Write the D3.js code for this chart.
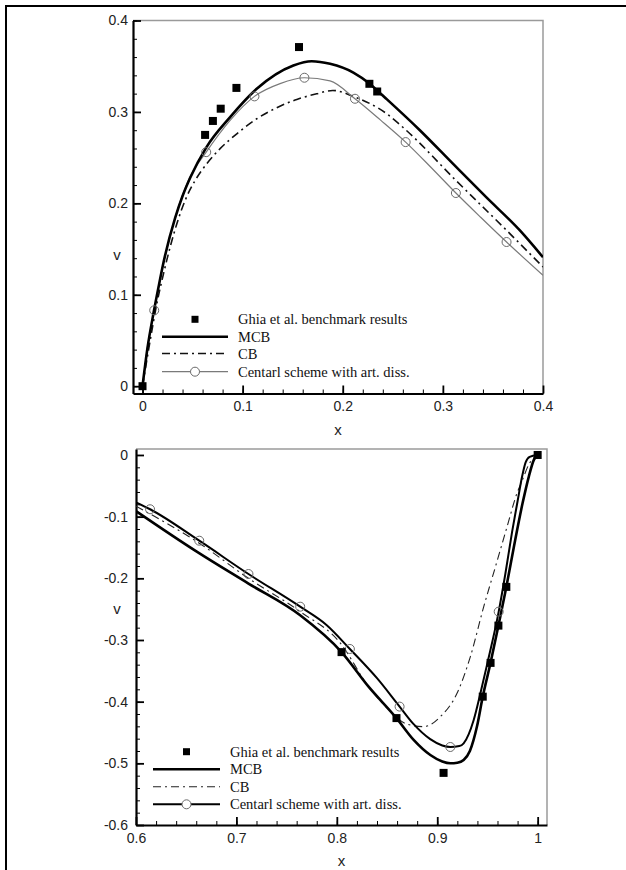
<!DOCTYPE html>
<html>
<head>
<meta charset="utf-8">
<script src="https://cdn.jsdelivr.net/npm/d3@7"></script>
<style>
body{margin:0;background:#fff;}
svg{display:block;}
</style>
</head>
<body>
<svg id="chart"></svg>
<script>
// ---- data: upper panel (0 <= x <= 0.4)
var topGhiaX = [0, 0.0625, 0.0703, 0.0781, 0.0938, 0.1563, 0.2266, 0.2344];
var topGhiaV = [0, 0.27485, 0.29012, 0.30353, 0.32627, 0.37095, 0.33075, 0.32235];

var topMcbX = [0, 0.005, 0.011, 0.016, 0.021, 0.0326, 0.04, 0.0476, 0.0636, 0.0875, 0.1141, 0.1507, 0.169, 0.1873, 0.2106, 0.2266, 0.2344, 0.2439, 0.277, 0.31, 0.343, 0.3767, 0.4];
var topMcbV = [0, 0.042, 0.08, 0.1085, 0.1355, 0.184, 0.208, 0.228, 0.261, 0.2943, 0.3253, 0.3508, 0.3555, 0.3526, 0.343, 0.331, 0.3235, 0.314, 0.28, 0.2434, 0.207, 0.1706, 0.141];

var topCbX = [0, 0.0077, 0.0143, 0.021, 0.0276, 0.0343, 0.0426, 0.0526, 0.0642, 0.0775, 0.0942, 0.1141, 0.1341, 0.1541, 0.174, 0.19, 0.2106, 0.2439, 0.2628, 0.313, 0.3636, 0.4];
var topCbV = [0, 0.0503, 0.0903, 0.1231, 0.1522, 0.1777, 0.2033, 0.2251, 0.2434, 0.2598, 0.2761, 0.2925, 0.3046, 0.3137, 0.3198, 0.3235, 0.317, 0.298, 0.2805, 0.2251, 0.1705, 0.1304];

var topCentralX = [0, 0.005, 0.0117, 0.021, 0.033, 0.047, 0.0636, 0.0875, 0.1118, 0.1374, 0.1617, 0.1873, 0.2122, 0.2378, 0.2628, 0.288, 0.313, 0.338, 0.3636, 0.4];
var topCentralV = [0, 0.043, 0.083, 0.134, 0.186, 0.228, 0.256, 0.2907, 0.317, 0.331, 0.3374, 0.334, 0.3144, 0.291, 0.267, 0.2395, 0.2113, 0.1845, 0.1577, 0.1213];
var topMarkX = [0.0117, 0.0636, 0.1118, 0.1617, 0.2122, 0.2628, 0.313, 0.3636];
var topMarkV = [0.083, 0.256, 0.317, 0.3374, 0.3144, 0.267, 0.2113, 0.1577];

var topXTicks = [0, 0.1, 0.2, 0.3, 0.4];
var topYTicks = [0, 0.1, 0.2, 0.3, 0.4];

// ---- data: lower panel (0.6 <= x <= 1)
var botGhiaX = [0.8047, 0.8594, 0.9063, 0.9453, 0.9531, 0.9609, 0.9688, 1.0];
var botGhiaV = [-0.31966, -0.42665, -0.5155, -0.39188, -0.33714, -0.27669, -0.21388, 0];

var botMcbX = [0.6, 0.6605, 0.712, 0.7635, 0.8047, 0.8316, 0.8594, 0.8765, 0.8931, 0.905, 0.913, 0.92, 0.9263, 0.9325, 0.9396, 0.9453, 0.9531, 0.9609, 0.9688, 0.9762, 0.985, 0.9912, 0.9962, 1.0];
var botMcbV = [-0.091, -0.1567, -0.2085, -0.26, -0.3197, -0.3757, -0.4267, -0.462, -0.4865, -0.497, -0.4999, -0.499, -0.4945, -0.48, -0.44, -0.392, -0.337, -0.2767, -0.2139, -0.15, -0.078, -0.035, -0.008, 0];

var botCbX = [0.6, 0.663, 0.712, 0.7635, 0.8035, 0.8316, 0.85, 0.87, 0.8865, 0.903, 0.9197, 0.933, 0.9463, 0.958, 0.9696, 0.9794, 0.9845, 0.991, 1.0];
var botCbV = [-0.083, -0.143, -0.2, -0.254, -0.305, -0.3757, -0.41, -0.4365, -0.4405, -0.4245, -0.3864, -0.327, -0.2459, -0.181, -0.116, -0.062, -0.042, -0.016, 0];

var botCentralX = [0.6, 0.614, 0.663, 0.712, 0.7635, 0.79, 0.813, 0.84, 0.8625, 0.8765, 0.893, 0.905, 0.913, 0.922, 0.9263, 0.9363, 0.943, 0.9496, 0.9612, 0.9678, 0.9745, 0.98, 0.9845, 0.988, 0.992, 1.0];
var botCentralV = [-0.077, -0.088, -0.139, -0.193, -0.246, -0.276, -0.3146, -0.362, -0.408, -0.4365, -0.4608, -0.471, -0.4735, -0.472, -0.4675, -0.4297, -0.3864, -0.34, -0.254, -0.193, -0.125, -0.075, -0.035, -0.012, -0.003, 0];
var botMarkX = [0.614, 0.663, 0.712, 0.7635, 0.813, 0.8625, 0.913, 0.9612];
var botMarkV = [-0.088, -0.139, -0.193, -0.246, -0.3146, -0.408, -0.4735, -0.254];

var botXTicks = [0.6, 0.7, 0.8, 0.9, 1];
var botYTicks = [-0.6, -0.5, -0.4, -0.3, -0.2, -0.1, 0];

var legendLabels = ["Ghia et al. benchmark results", "MCB", "CB", "Centarl scheme with art. diss."];

var screen = {width: 626, height: 870};
var svg = d3.select("#chart")
    .attr("width", screen.width)
    .attr("height", screen.height);

// page frame, only top and left are visible in the picture
svg.append("path")
    .attr("d", "M6,870V6H626")
    .attr("fill", "none")
    .attr("stroke", "#000")
    .attr("stroke-width", 2);

var tickText = function(d) { return String(d); };

var drawPanel = function(p)
{
    var xScale = d3.scaleLinear().domain(p.xDomain).range([p.left, p.right]);
    var yScale = d3.scaleLinear().domain(p.yDomain).range([p.bottom, p.top]);
    var g = svg.append("g");

    svg.append("clipPath").attr("id", "clip" + p.id)
        .append("rect")
        .attr("x", p.left).attr("y", p.top)
        .attr("width", p.right - p.left).attr("height", p.bottom - p.top);

    // light frame on top and right
    g.append("path")
        .attr("d", "M" + p.left + "," + p.top + "H" + p.right + "V" + p.bottom)
        .attr("fill", "none")
        .attr("stroke", "#9a9a9a")
        .attr("stroke-width", 1.5);

    // minor ticks
    var xMinor = d3.range(p.xTicks[0], p.xTicks[p.xTicks.length - 1] + 0.001, 0.02);
    var yMinor = d3.range(p.yTicks[0], p.yTicks[p.yTicks.length - 1] + 0.001, 0.02);
    g.append("g")
        .attr("transform", "translate(0," + p.bottom + ")")
        .call(d3.axisBottom(xScale).tickValues(xMinor).tickSizeInner(-4).tickSizeOuter(0).tickFormat(""))
        .call(function(a) { a.select(".domain").remove(); a.selectAll("line").attr("stroke", "#000").attr("stroke-width", 1); });
    g.append("g")
        .attr("transform", "translate(" + p.left + ",0)")
        .call(d3.axisLeft(yScale).tickValues(yMinor).tickSizeInner(-4).tickSizeOuter(0).tickFormat(""))
        .call(function(a) { a.select(".domain").remove(); a.selectAll("line").attr("stroke", "#000").attr("stroke-width", 1); });

    // major ticks + labels
    var xAxis = g.append("g")
        .attr("transform", "translate(0," + p.bottom + ")")
        .call(d3.axisBottom(xScale).tickValues(p.xTicks).tickSizeInner(-8).tickSizeOuter(0).tickPadding(8).tickFormat(tickText));
    var yAxis = g.append("g")
        .attr("transform", "translate(" + p.left + ",0)")
        .call(d3.axisLeft(yScale).tickValues(p.yTicks).tickSizeInner(-8).tickSizeOuter(0).tickPadding(p.yPad).tickFormat(tickText));
    [xAxis, yAxis].forEach(function(a)
    {
        a.attr("font-family", "'Liberation Sans', Arial, sans-serif").attr("font-size", 14);
        a.select(".domain").attr("stroke", "#000").attr("stroke-width", 2.2);
        a.selectAll(".tick line").attr("stroke", "#000").attr("stroke-width", 1.8);
        a.selectAll("text").attr("fill", "#222");
    });

    // axis titles
    g.append("text")
        .attr("x", (p.left + p.right) / 2).attr("y", p.bottom + 41)
        .attr("text-anchor", "middle")
        .attr("font-family", "'Liberation Sans', Arial, sans-serif").attr("font-size", 15).attr("fill", "#222")
        .text("x");
    g.append("text")
        .attr("x", 117).attr("y", p.vTitleY)
        .attr("text-anchor", "middle")
        .attr("font-family", "'Liberation Sans', Arial, sans-serif").attr("font-size", 15).attr("fill", "#222")
        .text("v");

    var line = d3.line()
        .x(function(d) { return xScale(d[0]); })
        .y(function(d) { return yScale(d[1]); })
        .curve(d3.curveMonotoneX);

    var plot = g.append("g").attr("clip-path", "url(#clip" + p.id + ")");

    plot.append("path").datum(d3.zip(p.cbX, p.cbV))
        .attr("d", line).attr("fill", "none")
        .attr("stroke", p.cbColor).attr("stroke-width", p.cbWidth)
        .attr("stroke-dasharray", "8,4,2,4");
    plot.append("path").datum(d3.zip(p.centralX, p.centralV))
        .attr("d", line).attr("fill", "none")
        .attr("stroke", p.centralColor).attr("stroke-width", p.centralWidth);
    plot.append("path").datum(d3.zip(p.mcbX, p.mcbV))
        .attr("d", line).attr("fill", "none")
        .attr("stroke", "#000").attr("stroke-width", 2.6);

    plot.selectAll("circle.mark")
        .data(d3.zip(p.markX, p.markV))
        .enter()
        .append("circle")
        .attr("class", "mark")
        .attr("cx", function(d) { return xScale(d[0]); })
        .attr("cy", function(d) { return yScale(d[1]); })
        .attr("r", 4.5)
        .attr("fill", "none")
        .attr("stroke", "#6a6a6a")
        .attr("stroke-width", 1);

    g.selectAll("rect.ghia")
        .data(d3.zip(p.ghiaX, p.ghiaV))
        .enter()
        .append("rect")
        .attr("class", "ghia")
        .attr("x", function(d) { return xScale(d[0]) - 4; })
        .attr("y", function(d) { return yScale(d[1]) - 4; })
        .attr("width", 8).attr("height", 8)
        .attr("fill", "#000");

    // legend
    var lg = g.append("g");
    var lx0 = p.legend.x0, lx1 = p.legend.x1, lmid = (lx0 + lx1) / 2, rows = p.legend.rows;
    lg.append("rect")
        .attr("x", lmid - 3.5).attr("y", rows[0] - 3.5)
        .attr("width", 7).attr("height", 7).attr("fill", "#000");
    lg.append("line")
        .attr("x1", lx0).attr("x2", lx1).attr("y1", rows[1]).attr("y2", rows[1])
        .attr("stroke", "#000").attr("stroke-width", 2.6);
    lg.append("line")
        .attr("x1", lx0).attr("x2", lx1).attr("y1", rows[2]).attr("y2", rows[2])
        .attr("stroke", p.cbColor).attr("stroke-width", p.cbWidth)
        .attr("stroke-dasharray", "8,4,2,4");
    lg.append("line")
        .attr("x1", lx0).attr("x2", lx1).attr("y1", rows[3]).attr("y2", rows[3])
        .attr("stroke", p.centralColor).attr("stroke-width", p.centralWidth);
    lg.append("circle")
        .attr("cx", lmid).attr("cy", rows[3]).attr("r", 4.5)
        .attr("fill", "#fff").attr("stroke", "#6a6a6a").attr("stroke-width", 1);
    lg.selectAll("text")
        .data(legendLabels)
        .enter()
        .append("text")
        .attr("x", p.legend.tx)
        .attr("y", function(d, i) { return rows[i] + 5; })
        .attr("font-family", "'Liberation Serif', 'Times New Roman', serif")
        .attr("font-size", 14.5)
        .attr("fill", "#111")
        .text(function(d) { return d; });
};

drawPanel({
    id: "top", left: 133, right: 543, top: 20.5, bottom: 393.5,
    xDomain: [-0.0095, 0.4], yDomain: [-0.008, 0.4],
    xTicks: topXTicks, yTicks: topYTicks, yPad: 5, vTitleY: 260,
    ghiaX: topGhiaX, ghiaV: topGhiaV,
    mcbX: topMcbX, mcbV: topMcbV,
    cbX: topCbX, cbV: topCbV, cbColor: "#111", cbWidth: 1.6,
    centralX: topCentralX, centralV: topCentralV, centralColor: "#7a7a7a", centralWidth: 1.2,
    markX: topMarkX, markV: topMarkV,
    legend: {x0: 162, x1: 228, tx: 238, rows: [319.3, 336.7, 353.5, 371.7]}
});

drawPanel({
    id: "bot", left: 136, right: 547, top: 449, bottom: 825,
    xDomain: [0.6, 1.0093], yDomain: [-0.6, 0.0097],
    xTicks: botXTicks, yTicks: botYTicks, yPad: 8, vTitleY: 614,
    ghiaX: botGhiaX, ghiaV: botGhiaV,
    mcbX: botMcbX, mcbV: botMcbV,
    cbX: botCbX, cbV: botCbV, cbColor: "#222", cbWidth: 1.1,
    centralX: botCentralX, centralV: botCentralV, centralColor: "#000", centralWidth: 2,
    markX: botMarkX, markV: botMarkV,
    legend: {x0: 153, x1: 220, tx: 230, rows: [751.7, 769.3, 786.7, 804.3]}
});
</script>
</body>
</html>
